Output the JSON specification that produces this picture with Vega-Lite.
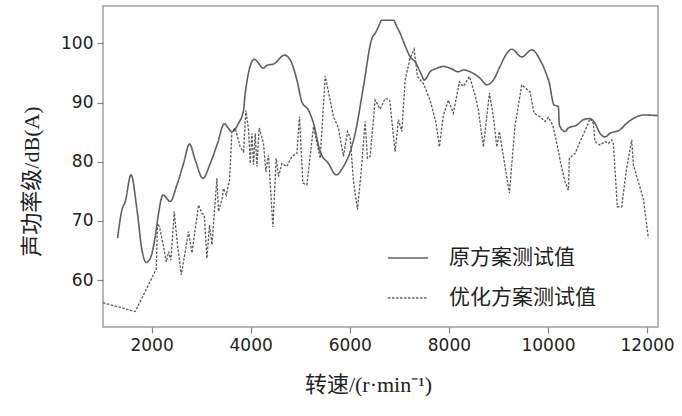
{
  "$schema": "https://vega.github.io/schema/vega-lite/v6.json",
  "width": 555,
  "height": 321,
  "autosize": "none",
  "padding": {"left": 103, "top": 6, "right": 24, "bottom": 89},
  "background": "white",
  "datasets": {
    "orig": [
      {"rpm": 1314, "db": 67.1}, {"rpm": 1403, "db": 71.9}, {"rpm": 1470, "db": 73.3},
      {"rpm": 1585, "db": 77.8}, {"rpm": 1706, "db": 71.9}, {"rpm": 1806, "db": 65.1},
      {"rpm": 1893, "db": 63.0}, {"rpm": 1974, "db": 63.7}, {"rpm": 2075, "db": 67.4},
      {"rpm": 2141, "db": 71.3}, {"rpm": 2230, "db": 74.4}, {"rpm": 2377, "db": 73.3},
      {"rpm": 2512, "db": 76.1}, {"rpm": 2645, "db": 79.7}, {"rpm": 2766, "db": 83.0},
      {"rpm": 2881, "db": 80.3}, {"rpm": 3037, "db": 77.2}, {"rpm": 3184, "db": 79.7},
      {"rpm": 3331, "db": 83.1}, {"rpm": 3466, "db": 86.4}, {"rpm": 3622, "db": 85.1},
      {"rpm": 3755, "db": 86.5}, {"rpm": 3856, "db": 88.7}, {"rpm": 3890, "db": 91.6},
      {"rpm": 4071, "db": 97.3}, {"rpm": 4259, "db": 95.8}, {"rpm": 4328, "db": 96.3},
      {"rpm": 4461, "db": 96.5}, {"rpm": 4683, "db": 98.0}, {"rpm": 4798, "db": 97.2},
      {"rpm": 4933, "db": 93.8}, {"rpm": 5034, "db": 90.1}, {"rpm": 5167, "db": 88.7},
      {"rpm": 5268, "db": 86.5}, {"rpm": 5403, "db": 81.7}, {"rpm": 5570, "db": 79.7},
      {"rpm": 5725, "db": 77.8}, {"rpm": 5873, "db": 79.2}, {"rpm": 6008, "db": 81.7},
      {"rpm": 6109, "db": 84.8}, {"rpm": 6276, "db": 92.7}, {"rpm": 6446, "db": 100.8},
      {"rpm": 6512, "db": 101.7}, {"rpm": 6579, "db": 102.8}, {"rpm": 6647, "db": 103.9},
      {"rpm": 6881, "db": 103.9}, {"rpm": 6950, "db": 102.8}, {"rpm": 7016, "db": 101.7},
      {"rpm": 7083, "db": 100.3}, {"rpm": 7151, "db": 98.9}, {"rpm": 7218, "db": 97.7},
      {"rpm": 7319, "db": 96.9}, {"rpm": 7420, "db": 95.2}, {"rpm": 7507, "db": 93.8},
      {"rpm": 7622, "db": 95.2}, {"rpm": 7757, "db": 95.8}, {"rpm": 7890, "db": 96.1},
      {"rpm": 8025, "db": 95.8}, {"rpm": 8192, "db": 95.2}, {"rpm": 8293, "db": 95.5},
      {"rpm": 8428, "db": 95.2}, {"rpm": 8630, "db": 94.1}, {"rpm": 8765, "db": 93.0},
      {"rpm": 8898, "db": 93.8}, {"rpm": 9033, "db": 96.1}, {"rpm": 9168, "db": 98.3},
      {"rpm": 9269, "db": 99.0}, {"rpm": 9471, "db": 97.7}, {"rpm": 9673, "db": 98.9},
      {"rpm": 9840, "db": 97.2}, {"rpm": 9975, "db": 94.6}, {"rpm": 10042, "db": 92.7},
      {"rpm": 10076, "db": 91.0}, {"rpm": 10122, "db": 89.6}, {"rpm": 10209, "db": 89.3},
      {"rpm": 10229, "db": 86.2}, {"rpm": 10344, "db": 85.1}, {"rpm": 10411, "db": 85.7},
      {"rpm": 10580, "db": 86.2}, {"rpm": 10713, "db": 87.1}, {"rpm": 10848, "db": 87.3},
      {"rpm": 10949, "db": 86.5}, {"rpm": 11050, "db": 84.8}, {"rpm": 11151, "db": 84.2},
      {"rpm": 11251, "db": 84.8}, {"rpm": 11453, "db": 85.4}, {"rpm": 11588, "db": 86.5},
      {"rpm": 11722, "db": 87.3}, {"rpm": 11924, "db": 87.9}, {"rpm": 12220, "db": 87.8}
    ],
    "opt": [
      {"rpm": 1020, "db": 56.2}, {"rpm": 1671, "db": 54.7}, {"rpm": 2095, "db": 61.9},
      {"rpm": 2121, "db": 69.6}, {"rpm": 2161, "db": 69.0}, {"rpm": 2230, "db": 66.2},
      {"rpm": 2297, "db": 63.1}, {"rpm": 2343, "db": 64.8}, {"rpm": 2391, "db": 63.4},
      {"rpm": 2458, "db": 71.6}, {"rpm": 2512, "db": 66.8}, {"rpm": 2599, "db": 60.9},
      {"rpm": 2680, "db": 64.8}, {"rpm": 2746, "db": 68.2}, {"rpm": 2815, "db": 64.6},
      {"rpm": 2948, "db": 72.7}, {"rpm": 3017, "db": 71.3}, {"rpm": 3063, "db": 71.0},
      {"rpm": 3117, "db": 63.7}, {"rpm": 3170, "db": 69.3}, {"rpm": 3218, "db": 66.0},
      {"rpm": 3319, "db": 77.2}, {"rpm": 3351, "db": 71.6}, {"rpm": 3420, "db": 73.6},
      {"rpm": 3452, "db": 75.5}, {"rpm": 3507, "db": 74.4}, {"rpm": 3573, "db": 76.9},
      {"rpm": 3622, "db": 85.1}, {"rpm": 3688, "db": 85.7}, {"rpm": 3789, "db": 82.5},
      {"rpm": 3856, "db": 81.7}, {"rpm": 3904, "db": 88.7}, {"rpm": 3957, "db": 85.4},
      {"rpm": 3991, "db": 79.7}, {"rpm": 4025, "db": 84.8}, {"rpm": 4057, "db": 79.5},
      {"rpm": 4092, "db": 84.8}, {"rpm": 4126, "db": 79.2}, {"rpm": 4172, "db": 85.7},
      {"rpm": 4259, "db": 83.1}, {"rpm": 4307, "db": 78.3}, {"rpm": 4360, "db": 81.1},
      {"rpm": 4449, "db": 69.0}, {"rpm": 4515, "db": 80.6}, {"rpm": 4562, "db": 77.5},
      {"rpm": 4630, "db": 79.7}, {"rpm": 4731, "db": 79.2}, {"rpm": 4832, "db": 80.9},
      {"rpm": 4933, "db": 81.4}, {"rpm": 4985, "db": 87.6}, {"rpm": 5054, "db": 76.4},
      {"rpm": 5134, "db": 76.1}, {"rpm": 5268, "db": 85.9}, {"rpm": 5403, "db": 80.6},
      {"rpm": 5504, "db": 94.5}, {"rpm": 5671, "db": 87.6}, {"rpm": 5772, "db": 85.7},
      {"rpm": 5873, "db": 80.9}, {"rpm": 5953, "db": 85.1}, {"rpm": 6008, "db": 84.1},
      {"rpm": 6074, "db": 76.8}, {"rpm": 6155, "db": 71.9}, {"rpm": 6224, "db": 77.8},
      {"rpm": 6310, "db": 86.8}, {"rpm": 6357, "db": 80.6}, {"rpm": 6411, "db": 80.9},
      {"rpm": 6512, "db": 90.4}, {"rpm": 6613, "db": 88.9}, {"rpm": 6714, "db": 90.7},
      {"rpm": 6805, "db": 90.4}, {"rpm": 6915, "db": 81.7}, {"rpm": 6982, "db": 87.1},
      {"rpm": 7050, "db": 85.1}, {"rpm": 7117, "db": 93.8}, {"rpm": 7218, "db": 97.5},
      {"rpm": 7299, "db": 99.0}, {"rpm": 7365, "db": 94.4}, {"rpm": 7486, "db": 93.2},
      {"rpm": 7621, "db": 90.4}, {"rpm": 7742, "db": 86.5}, {"rpm": 7809, "db": 82.5},
      {"rpm": 7890, "db": 87.9}, {"rpm": 7990, "db": 90.4}, {"rpm": 8091, "db": 88.2},
      {"rpm": 8212, "db": 93.5}, {"rpm": 8293, "db": 92.7}, {"rpm": 8414, "db": 94.4},
      {"rpm": 8529, "db": 91.3}, {"rpm": 8596, "db": 88.7}, {"rpm": 8697, "db": 82.5},
      {"rpm": 8818, "db": 91.6}, {"rpm": 8898, "db": 87.6}, {"rpm": 8967, "db": 82.5},
      {"rpm": 9019, "db": 85.1}, {"rpm": 9100, "db": 80.9}, {"rpm": 9221, "db": 74.7},
      {"rpm": 9336, "db": 86.2}, {"rpm": 9471, "db": 93.0}, {"rpm": 9638, "db": 91.8},
      {"rpm": 9719, "db": 88.2}, {"rpm": 9840, "db": 87.6}, {"rpm": 9941, "db": 86.8},
      {"rpm": 10007, "db": 87.5}, {"rpm": 10096, "db": 86.2}, {"rpm": 10163, "db": 83.7},
      {"rpm": 10258, "db": 79.7}, {"rpm": 10344, "db": 76.6}, {"rpm": 10411, "db": 75.2},
      {"rpm": 10431, "db": 80.6}, {"rpm": 10546, "db": 81.4}, {"rpm": 10647, "db": 83.4},
      {"rpm": 10782, "db": 85.9}, {"rpm": 10848, "db": 87.3}, {"rpm": 10915, "db": 86.5},
      {"rpm": 10949, "db": 83.4}, {"rpm": 11050, "db": 82.8}, {"rpm": 11151, "db": 83.4},
      {"rpm": 11218, "db": 83.1}, {"rpm": 11286, "db": 83.7}, {"rpm": 11319, "db": 83.1},
      {"rpm": 11399, "db": 72.4}, {"rpm": 11488, "db": 72.4}, {"rpm": 11575, "db": 78.3},
      {"rpm": 11690, "db": 83.7}, {"rpm": 11722, "db": 79.5}, {"rpm": 11823, "db": 76.6},
      {"rpm": 11924, "db": 73.8}, {"rpm": 12025, "db": 67.1}
    ]
  },
  "encoding": {
    "x": {
      "field": "rpm",
      "type": "quantitative",
      "scale": {"domain": [1020, 12220], "nice": false, "zero": false},
      "axis": {
        "title": "转速/(r·min⁻¹)",
        "values": [2000, 4000, 6000, 8000, 10000, 12000],
        "format": "d",
        "titleX": 265,
        "titleY": 57,
        "titleBaseline": "middle"
      }
    },
    "y": {
      "field": "db",
      "type": "quantitative",
      "scale": {"domain": [52.1, 106.3], "nice": false, "zero": false},
      "axis": {
        "title": "声功率级/dB(A)",
        "values": [60, 70, 80, 90, 100],
        "titleX": -72,
        "titleY": 175,
        "titleAngle": -90,
        "titleAlign": "center",
        "titleBaseline": "middle"
      }
    },
    "strokeDash": {
      "field": "series",
      "type": "nominal",
      "scale": {
        "domain": ["原方案测试值", "优化方案测试值"],
        "range": [[1, 0], [2.5, 1.5]]
      },
      "legend": {
        "title": null,
        "orient": "none",
        "legendX": 284,
        "legendY": 231,
        "symbolType": "stroke",
        "symbolSize": 1600,
        "symbolStrokeWidth": 1.5,
        "symbolStrokeColor": "#666666",
        "labelFont": "Liberation Serif, Noto Sans CJK SC",
        "labelFontSize": 21,
        "labelColor": "#222222",
        "labelOffset": 20,
        "rowPadding": 9
      }
    }
  },
  "layer": [
    {
      "data": {"name": "orig"},
      "transform": [{"calculate": "'原方案测试值'", "as": "series"}],
      "mark": {"type": "line", "color": "#606060", "strokeWidth": 1.6, "interpolate": "monotone"}
    },
    {
      "data": {"name": "opt"},
      "transform": [{"calculate": "'优化方案测试值'", "as": "series"}],
      "mark": {"type": "line", "color": "#5a5a5a", "strokeWidth": 1.3}
    }
  ],
  "config": {
    "view": {"stroke": "#a0a0a0", "strokeWidth": 1.5},
    "axis": {
      "domain": false,
      "grid": false,
      "ticks": true,
      "tickSize": 6,
      "tickColor": "#808080",
      "tickWidth": 1.2,
      "labelFont": "DejaVu Sans",
      "labelFontSize": 17,
      "labelColor": "#222222",
      "labelPadding": 4,
      "titleFont": "Liberation Serif, Noto Sans CJK SC",
      "titleFontSize": 22,
      "titleFontWeight": "normal",
      "titleColor": "#222222"
    }
  }
}
